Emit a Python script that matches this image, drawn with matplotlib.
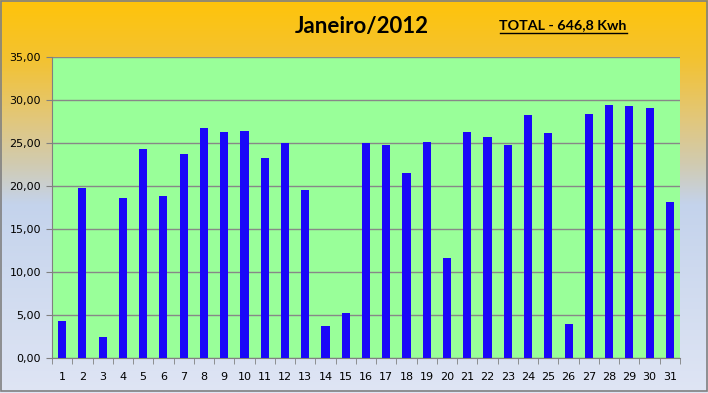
import numpy as np
import matplotlib
matplotlib.use("Agg")
import matplotlib.pyplot as plt
from matplotlib.colors import LinearSegmentedColormap
from matplotlib.patches import Rectangle

# dados do mês (kWh por dia)
dias = list(range(1, 32))
valores = [4.3, 19.8, 2.5, 18.6, 24.3, 18.8, 23.7, 26.7, 26.3, 26.4,
           23.3, 25.0, 19.5, 3.7, 5.2, 25.0, 24.8, 21.5, 25.1, 11.6,
           26.3, 25.7, 24.8, 28.3, 26.2, 4.0, 28.4, 29.4, 29.3, 29.1, 18.1]
titulo = "Janeiro/2012"
total_txt = "TOTAL - 646,8 Kwh"
yticks = [0, 5, 10, 15, 20, 25, 30, 35]

fig = plt.figure(figsize=(7.08, 3.93), dpi=100)

# fundo em degradê (laranja em cima -> azul claro embaixo)
bg = fig.add_axes([0, 0, 1, 1], zorder=-10)
grad = LinearSegmentedColormap.from_list("bg", [
    (0.0, "#FFC40A"), (0.15, "#F3C231"), (0.30, "#E2C77A"),
    (0.42, "#D0CBB2"), (0.52, "#C4D3EC"), (1.0, "#DFE5F4")])
bg.imshow(np.linspace(0, 1, 256).reshape(-1, 1), aspect="auto", cmap=grad,
          extent=[0, 1, 0, 1], origin="upper")
bg.set_xlim(0, 1)
bg.set_ylim(0, 1)
bg.axis("off")
fig.patches.append(Rectangle((0.001, 0.004), 0.997, 0.993, transform=fig.transFigure,
                             fill=False, edgecolor="#808080", linewidth=1.2))

ax = fig.add_axes([52 / 708, 1 - 358 / 393, 628 / 708, 301 / 393])
ax.set_facecolor("#99FF99")
ax.bar(dias, valores, width=0.4, color="#1A08F8", zorder=3)

ax.set_xlim(0.5, 31.5)
ax.set_ylim(0, 35)
ax.set_yticks(yticks)
ax.set_yticklabels([f"{v:.2f}".replace(".", ",") for v in yticks], fontsize=8)
ax.set_xticks(dias)
ax.set_xticklabels([str(d) for d in dias], fontsize=8)
ax.tick_params(axis="x", length=0, pad=10)
ax.set_xticks(np.arange(0.5, 32, 1), minor=True)
ax.tick_params(axis="x", which="minor", length=4, color="#808080", direction="out")
ax.tick_params(axis="y", length=4, color="#808080", direction="out", pad=4)

ax.grid(axis="y", color="#888888", linewidth=1, zorder=1)
ax.set_axisbelow(True)
for s in ["top", "right"]:
    ax.spines[s].set_visible(False)
for s in ["left", "bottom"]:
    ax.spines[s].set_color("#808080")

fig.text(362 / 708, 1 - 27 / 393, titulo, fontsize=16, fontweight="bold",
         family="Lato", ha="center", va="center")
fig.text(563 / 708, 1 - 25 / 393, total_txt, fontsize=10.3, fontweight="bold",
         family="Lato", ha="center", va="center")
# sublinhado do total
fig.add_artist(plt.Line2D([500 / 708, 627 / 708], [1 - 32.5 / 393, 1 - 32.5 / 393],
                          color="black", linewidth=1))

fig.savefig("out.png", dpi=100)
